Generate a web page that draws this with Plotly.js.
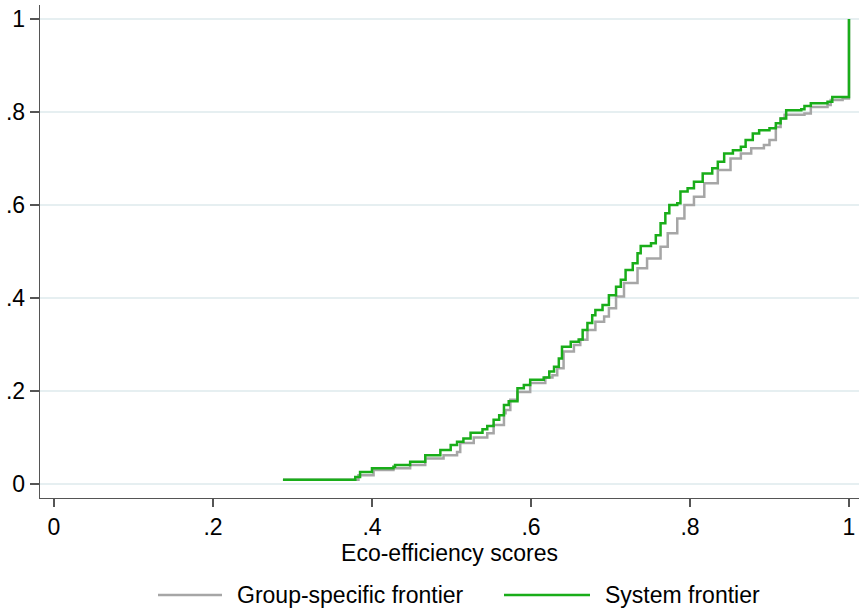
<!DOCTYPE html>
<html>
<head>
<meta charset="utf-8">
<script src="https://cdn.plot.ly/plotly-3.0.1.min.js"></script>
<style>
  html, body { margin: 0; padding: 0; background: #ffffff; }
  #chart { width: 859px; height: 611px; }
</style>
</head>
<body>
<div id="chart"></div>
<script>
// Eco-efficiency scores (cumulative distribution, step points)
var groupScores = [0.288, 0.383, 0.402, 0.427, 0.448, 0.467, 0.490, 0.507, 0.511, 0.528, 0.545, 0.553, 0.566, 0.568, 0.574, 0.583, 0.599, 0.618, 0.627, 0.633, 0.641, 0.654, 0.662, 0.671, 0.681, 0.692, 0.698, 0.707, 0.717, 0.734, 0.746, 0.763, 0.772, 0.784, 0.793, 0.805, 0.818, 0.835, 0.851, 0.864, 0.877, 0.893, 0.900, 0.908, 0.914, 0.919, 0.944, 0.952, 0.973, 0.977, 0.992, 1.0];
var groupCum = [0.009, 0.019, 0.030, 0.034, 0.041, 0.055, 0.062, 0.069, 0.088, 0.100, 0.109, 0.127, 0.152, 0.159, 0.181, 0.198, 0.217, 0.229, 0.234, 0.249, 0.285, 0.299, 0.310, 0.331, 0.349, 0.360, 0.378, 0.403, 0.432, 0.464, 0.485, 0.510, 0.539, 0.571, 0.600, 0.618, 0.647, 0.675, 0.700, 0.711, 0.722, 0.729, 0.740, 0.768, 0.786, 0.794, 0.797, 0.811, 0.815, 0.826, 0.829, 1.0];

var systemScores = [0.288, 0.379, 0.385, 0.400, 0.427, 0.429, 0.448, 0.467, 0.486, 0.499, 0.507, 0.515, 0.524, 0.539, 0.545, 0.553, 0.560, 0.566, 0.572, 0.583, 0.591, 0.599, 0.616, 0.623, 0.629, 0.635, 0.639, 0.650, 0.660, 0.665, 0.671, 0.677, 0.681, 0.690, 0.698, 0.707, 0.713, 0.719, 0.728, 0.734, 0.738, 0.751, 0.757, 0.763, 0.769, 0.774, 0.784, 0.788, 0.797, 0.805, 0.816, 0.828, 0.835, 0.843, 0.854, 0.864, 0.870, 0.879, 0.887, 0.900, 0.908, 0.914, 0.921, 0.940, 0.944, 0.952, 0.973, 0.979, 1.0];
var systemCum = [0.009, 0.015, 0.026, 0.034, 0.037, 0.041, 0.048, 0.062, 0.073, 0.084, 0.091, 0.098, 0.110, 0.118, 0.125, 0.138, 0.148, 0.170, 0.178, 0.206, 0.213, 0.224, 0.229, 0.242, 0.252, 0.270, 0.295, 0.306, 0.311, 0.331, 0.346, 0.363, 0.374, 0.385, 0.406, 0.424, 0.439, 0.460, 0.475, 0.496, 0.512, 0.518, 0.535, 0.561, 0.582, 0.600, 0.604, 0.629, 0.636, 0.650, 0.668, 0.679, 0.693, 0.711, 0.718, 0.725, 0.740, 0.754, 0.761, 0.765, 0.776, 0.786, 0.804, 0.806, 0.813, 0.819, 0.822, 0.832, 1.0];

var seriesNames = ["Group-specific frontier", "System frontier"];
var xTickVals = [0, 0.2, 0.4, 0.6, 0.8, 1];
var xTickText = ["0", ".2", ".4", ".6", ".8", "1"];
var yTickVals = [0, 0.2, 0.4, 0.6, 0.8, 1];
var yTickText = ["0", ".2", ".4", ".6", ".8", "1"];
var xTitle = "Eco-efficiency scores";

var grayColor = "#a6a6a6";
var greenColor = "#19ad19";
var FONT = "Liberation Sans, Arial, sans-serif";
var FS = 23;

var traces = [
  { x: groupScores, y: groupCum, type: "scatter", mode: "lines", name: seriesNames[0],
    line: { shape: "hv", color: grayColor, width: 2.5 }, showlegend: false },
  { x: systemScores, y: systemCum, type: "scatter", mode: "lines", name: seriesNames[1],
    line: { shape: "hv", color: greenColor, width: 2.5 }, showlegend: false }
];

// paper coordinates for legend: plot area spans x 40..859, y 5..498
function px2paperX(px) { return (px - 40) / 819; }
function px2paperY(py) { return (498 - py) / 493; }
var legY = px2paperY(595);

var layout = {
  width: 859, height: 611,
  margin: { l: 40, r: 0, t: 5, b: 113 },
  paper_bgcolor: "#ffffff", plot_bgcolor: "#ffffff",
  font: { family: FONT, color: "#000000", size: FS },
  showlegend: false,
  xaxis: {
    range: [-0.0176, 1.0126], tickvals: xTickVals, ticktext: xTickText,
    showgrid: false, zeroline: false, showline: true, linecolor: "#555555", linewidth: 1.3,
    ticks: "outside", ticklen: 8, tickcolor: "#555555", tickwidth: 1.3,
    tickfont: { family: FONT, size: FS, color: "#000000" },
    title: { text: xTitle, font: { family: FONT, size: FS, color: "#000000" }, standoff: 0 }
  },
  yaxis: {
    range: [-0.0301, 1.0301], tickvals: yTickVals, ticktext: yTickText,
    showgrid: true, gridcolor: "#e6eff1", gridwidth: 1.5, zeroline: false,
    showline: true, linecolor: "#555555", linewidth: 1.3,
    ticks: "outside", ticklen: 9, tickcolor: "#555555", tickwidth: 1.3,
    tickfont: { family: FONT, size: FS, color: "#000000" }
  },
  shapes: [
    { type: "line", xref: "paper", yref: "paper", x0: px2paperX(158), x1: px2paperX(222), y0: legY, y1: legY,
      line: { color: grayColor, width: 2.5 } },
    { type: "line", xref: "paper", yref: "paper", x0: px2paperX(504), x1: px2paperX(590), y0: legY, y1: legY,
      line: { color: greenColor, width: 2.5 } }
  ],
  annotations: [
    { xref: "paper", yref: "paper", x: px2paperX(235), y: legY, xanchor: "left", yanchor: "middle",
      text: seriesNames[0], showarrow: false, font: { family: FONT, size: FS, color: "#000000" } },
    { xref: "paper", yref: "paper", x: px2paperX(603), y: legY, xanchor: "left", yanchor: "middle",
      text: seriesNames[1], showarrow: false, font: { family: FONT, size: FS, color: "#000000" } }
  ]
};

Plotly.newPlot("chart", traces, layout, { displayModeBar: false, staticPlot: true });
</script>
</body>
</html>
